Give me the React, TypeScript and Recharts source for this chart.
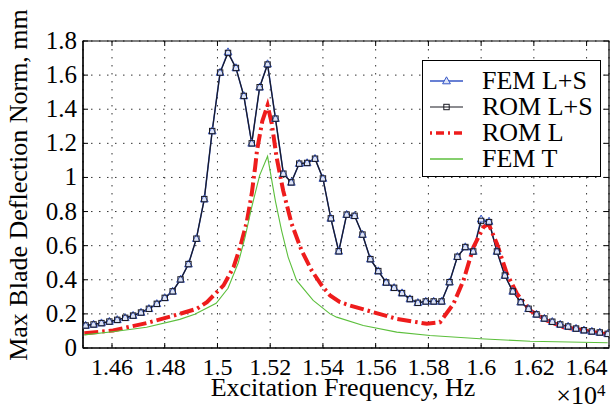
import { LineChart, Line, XAxis, YAxis, CartesianGrid, Legend, ReferenceArea } from 'recharts';

const FONT = '"Liberation Serif", "Times New Roman", serif';

// excitation frequency (x 10^4 Hz) of the swept solutions with markers
const freqLS = [
  1.450, 1.453, 1.456, 1.459, 1.462, 1.465, 1.468, 1.471, 1.474, 1.477,
  1.480, 1.483, 1.486, 1.489, 1.492, 1.495, 1.498, 1.501, 1.504, 1.507,
  1.510, 1.513, 1.516, 1.519, 1.522, 1.525, 1.528, 1.531, 1.534, 1.537,
  1.540, 1.543, 1.546, 1.549, 1.552, 1.555, 1.558, 1.561, 1.564, 1.567,
  1.570, 1.573, 1.576, 1.579, 1.582, 1.585, 1.588, 1.591, 1.594, 1.597,
  1.600, 1.603, 1.606, 1.609, 1.612, 1.615, 1.618, 1.621, 1.624, 1.627,
  1.630, 1.633, 1.636, 1.639, 1.642, 1.645, 1.648,
];

const femLS = [
  0.132, 0.138, 0.146, 0.155, 0.165, 0.177, 0.190, 0.208, 0.230, 0.259,
  0.294, 0.332, 0.402, 0.492, 0.641, 0.873, 1.272, 1.615, 1.735, 1.642,
  1.478, 1.200, 1.529, 1.665, 1.345, 1.022, 0.971, 1.081, 1.085, 1.110,
  0.994, 0.760, 0.567, 0.782, 0.775, 0.665, 0.521, 0.451, 0.384, 0.353,
  0.322, 0.287, 0.265, 0.273, 0.273, 0.273, 0.386, 0.535, 0.592, 0.566,
  0.755, 0.742, 0.566, 0.425, 0.332, 0.269, 0.230, 0.197, 0.173, 0.154,
  0.138, 0.126, 0.114, 0.104, 0.097, 0.091, 0.083,
];

const romLS = [
  0.132, 0.138, 0.146, 0.155, 0.165, 0.177, 0.190, 0.208, 0.230, 0.259,
  0.294, 0.332, 0.402, 0.492, 0.641, 0.873, 1.272, 1.615, 1.730, 1.642,
  1.478, 1.200, 1.529, 1.662, 1.345, 1.022, 0.971, 1.081, 1.085, 1.110,
  0.994, 0.760, 0.567, 0.782, 0.775, 0.665, 0.521, 0.451, 0.384, 0.353,
  0.322, 0.287, 0.265, 0.273, 0.273, 0.273, 0.386, 0.535, 0.592, 0.566,
  0.745, 0.738, 0.566, 0.425, 0.332, 0.269, 0.230, 0.197, 0.173, 0.154,
  0.138, 0.126, 0.114, 0.104, 0.097, 0.091, 0.083,
];

const freqRomL = [
  1.4495, 1.4604, 1.4731, 1.4857, 1.4922, 1.4960, 1.5023, 1.5061, 1.5086, 1.5111,
  1.5130, 1.5143, 1.5150, 1.5170, 1.5190, 1.5206, 1.5224, 1.5249, 1.5281, 1.5319,
  1.5357, 1.5395, 1.5427, 1.5465, 1.5503, 1.5591, 1.5680, 1.5794, 1.5844, 1.5895,
  1.5933, 1.5971, 1.6009, 1.6028, 1.6060, 1.6098, 1.6136, 1.6186, 1.6249, 1.6313,
  1.6376, 1.6480,
];
const romL = [
  0.086, 0.103, 0.146, 0.200, 0.230, 0.269, 0.367, 0.474, 0.592, 0.738,
  0.905, 1.061, 1.159, 1.330, 1.423, 1.316, 1.120, 0.924, 0.729, 0.572,
  0.455, 0.367, 0.308, 0.269, 0.249, 0.210, 0.171, 0.142, 0.151, 0.259,
  0.396, 0.592, 0.709, 0.729, 0.611, 0.435, 0.318, 0.220, 0.161, 0.122,
  0.107, 0.079,
];

const freqFemT = [
  1.4495, 1.4610, 1.4731, 1.4857, 1.4914, 1.4995, 1.5040, 1.5079, 1.5104, 1.5129,
  1.5160, 1.5190, 1.5220, 1.5243, 1.5268, 1.5300, 1.5363, 1.5427, 1.5452, 1.5553,
  1.5680, 1.5806, 1.5996, 1.6186, 1.6480,
];
const femT = [
  0.077, 0.097, 0.122, 0.168, 0.198, 0.262, 0.350, 0.500, 0.645, 0.820,
  1.012, 1.124, 0.860, 0.690, 0.533, 0.396, 0.279, 0.200, 0.181, 0.132,
  0.093, 0.073, 0.054, 0.040, 0.031,
];

const xTicks = [1.46, 1.48, 1.5, 1.52, 1.54, 1.56, 1.58, 1.6, 1.62, 1.64];
const yTicks = [0, 0.2, 0.4, 0.6, 0.8, 1, 1.2, 1.4, 1.6, 1.8];
const seriesNames = ['FEM L+S', 'ROM L+S', 'ROM L', 'FEM T'];
const xLabel = 'Excitation Frequency, Hz';
const yLabel = 'Max Blade Deflection Norm, mm';

const BLUE = '#3656c6';
const BLACK = '#1a1a22';
const RED = '#ee1c1c';
const GREEN = '#5cbf3c';

const PLOT_TOP = 41;
const PLOT_RIGHT = 609;

const toRows = (xs: number[], ys: number[]) => xs.map((f, i) => ({ f, v: ys[i] }));

const femLSData = toRows(freqLS, femLS);
const romLSData = toRows(freqLS, romLS);
const romLData = toRows(freqRomL, romL);
const femTData = toRows(freqFemT, femT);

const triPath = (cx: number, cy: number) =>
  `M${cx},${cy - 4.2} L${cx + 3.9},${cy + 2.8} L${cx - 3.9},${cy + 2.8} Z`;

const TriangleDot = (props: any) => {
  const { cx, cy, index } = props;
  if (cx == null || cy == null) return null;
  return <path key={`tri-${index}`} d={triPath(cx, cy)} fill="#dde4f6" stroke={BLUE} strokeWidth={1} />;
};

const SquareDot = (props: any) => {
  const { cx, cy, index } = props;
  if (cx == null || cy == null) return null;
  return <rect key={`sq-${index}`} x={cx - 2.7} y={cy - 2.7} width={5.4} height={5.4} fill="none" stroke={BLACK} strokeWidth={1} />;
};

// MATLAB-style ticks: short inward marks on both sides of the box plus the label
const XTick = (props: any) => {
  const { x, y, payload } = props;
  return (
    <g>
      <line x1={x} y1={y - 6} x2={x} y2={y - 11} stroke="#000" strokeWidth={1} />
      <line x1={x} y1={PLOT_TOP} x2={x} y2={PLOT_TOP + 5} stroke="#000" strokeWidth={1} />
      <text x={x} y={y + 21} textAnchor="middle" fontSize={24} fontFamily={FONT} fill="#000">
        {String(payload.value)}
      </text>
    </g>
  );
};

const YTick = (props: any) => {
  const { x, y, payload } = props;
  return (
    <g>
      <line x1={x + 6} y1={y} x2={x + 11} y2={y} stroke="#000" strokeWidth={1} />
      <line x1={PLOT_RIGHT} y1={y} x2={PLOT_RIGHT - 5} y2={y} stroke="#000" strokeWidth={1} />
      <text x={x} y={y + 8} textAnchor="end" fontSize={25} fontFamily={FONT} fill="#000">
        {String(payload.value)}
      </text>
    </g>
  );
};

const renderXLabel = (props: any) => {
  const { x, y, width } = props.viewBox;
  return (
    <g fontFamily={FONT} fill="#000">
      <text x={x + width / 2 - 3} y={y + 48} textAnchor="middle" fontSize={26} fontFamily={FONT}>{xLabel}</text>
      <text x={x + width - 12} y={y + 56} textAnchor="end" fontSize={26} fontFamily={FONT}>×10</text>
      <text x={x + width - 12} y={y + 48} fontSize={17} fontFamily={FONT}>4</text>
    </g>
  );
};

const renderYLabel = () => (
  <text x={27} y={185} transform="rotate(-90 27 185)" textAnchor="middle" fontSize={26} fontFamily={FONT} fill="#000">
    {yLabel}
  </text>
);

const legendSample = (i: number) => {
  if (i === 0) {
    return (
      <>
        <line x1={7} y1={13} x2={40} y2={13} stroke={BLUE} strokeWidth={1.3} />
        <path d={triPath(23.5, 13)} fill="#dde4f6" stroke={BLUE} strokeWidth={1} />
      </>
    );
  }
  if (i === 1) {
    return (
      <>
        <line x1={7} y1={13} x2={40} y2={13} stroke={BLACK} strokeWidth={1.2} />
        <rect x={20.8} y={10.3} width={5.4} height={5.4} fill="none" stroke={BLACK} strokeWidth={1} />
      </>
    );
  }
  if (i === 2) {
    return <line x1={7} y1={13} x2={40} y2={13} stroke={RED} strokeWidth={3.5} strokeDasharray="2 4 8 4" />;
  }
  return <line x1={7} y1={13} x2={40} y2={13} stroke={GREEN} strokeWidth={1.3} />;
};

const renderLegend = () => (
  <div
    style={{
      width: 179,
      height: 117,
      boxSizing: 'border-box',
      border: '1px solid #000',
      background: '#fff',
      paddingTop: 7,
      fontFamily: FONT,
      fontSize: 26,
      color: '#000',
    }}
  >
    {seriesNames.map((name, i) => (
      <div key={name} style={{ height: 26, display: 'flex', alignItems: 'center', position: 'relative' }}>
        <svg width={50} height={26} style={{ display: 'block' }}>
          {legendSample(i)}
        </svg>
        <span style={{ position: 'absolute', left: 59, top: 0, lineHeight: '26px', whiteSpace: 'nowrap' }}>{name}</span>
      </div>
    ))}
  </div>
);

export default function App() {
  return (
    <div style={{ position: 'absolute', left: 0, top: 0, width: 612, height: 408, background: '#fff', fontFamily: FONT }}>
      <LineChart width={612} height={408} margin={{ top: PLOT_TOP, right: 3, bottom: 0, left: 0 }} style={{ fontFamily: FONT }}>
        <CartesianGrid stroke="#333" strokeDasharray="1.5 6.5" strokeWidth={1} />
        <XAxis
          dataKey="f"
          type="number"
          domain={[1.449, 1.6485]}
          ticks={xTicks}
          interval={0}
          allowDataOverflow
          height={60}
          tickLine={false}
          tickSize={6}
          tickMargin={0}
          axisLine={{ stroke: '#000', strokeWidth: 1.2 }}
          tick={<XTick />}
          label={{ content: renderXLabel }}
        />
        <YAxis
          type="number"
          domain={[0, 1.8]}
          ticks={yTicks}
          interval={0}
          allowDataOverflow
          width={83}
          tickLine={false}
          tickSize={6}
          tickMargin={0}
          axisLine={{ stroke: '#000', strokeWidth: 1.2 }}
          tick={<YTick />}
          label={{ content: renderYLabel }}
        />
        <ReferenceArea x1={1.449} x2={1.6485} y1={0} y2={1.8} fill="none" stroke="#000" strokeWidth={1.2} ifOverflow="visible" />
        <Line data={femLSData} dataKey="v" name={seriesNames[0]} type="linear" stroke={BLUE} strokeWidth={1.5} dot={TriangleDot} activeDot={false} isAnimationActive={false} />
        <Line data={romLSData} dataKey="v" name={seriesNames[1]} type="linear" stroke={BLACK} strokeWidth={1.2} dot={SquareDot} activeDot={false} isAnimationActive={false} />
        <Line data={romLData} dataKey="v" name={seriesNames[2]} type="linear" stroke={RED} strokeWidth={4} strokeDasharray="14 4 2.5 4" dot={false} activeDot={false} isAnimationActive={false} />
        <Line data={femTData} dataKey="v" name={seriesNames[3]} type="linear" stroke={GREEN} strokeWidth={1.1} dot={false} activeDot={false} isAnimationActive={false} />
        <Legend
          layout="horizontal"
          verticalAlign="middle"
          align="center"
          content={renderLegend}
          wrapperStyle={{ position: 'absolute', left: 422, top: 60, width: 179, height: 117, margin: 0, padding: 0 }}
        />
      </LineChart>
    </div>
  );
}
